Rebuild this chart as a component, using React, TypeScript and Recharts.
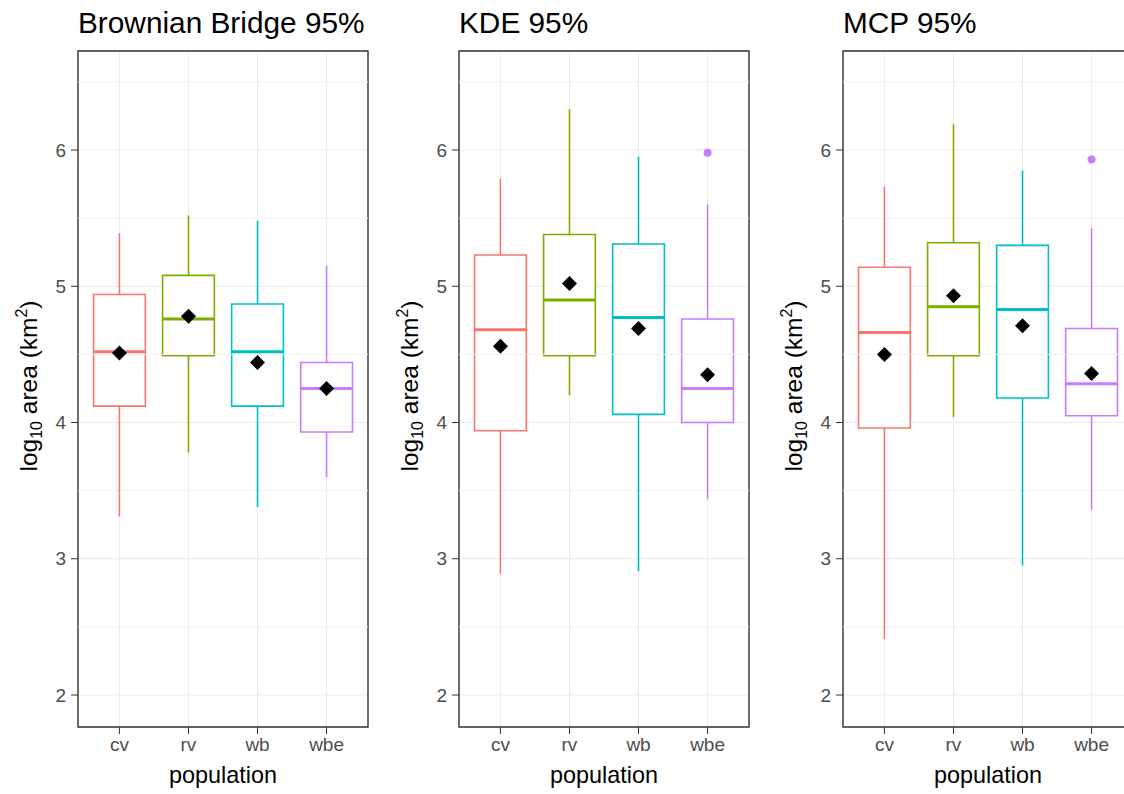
import React from 'react';
import {
  ComposedChart,
  XAxis,
  YAxis,
  CartesianGrid,
  ReferenceArea,
  ReferenceLine,
  Scatter,
} from 'recharts';

const populations = ['cv', 'rv', 'wb', 'wbe'];
const popColors = ['#F8766D', '#7CAE00', '#00BFC4', '#C77CFF'];
const yTicks = [2, 3, 4, 5, 6];
const yMinorTicks = [2.5, 3.5, 4.5, 5.5, 6.5];
const yDomain = [1.765, 6.727];

// Brownian Bridge 95%
const bbLow = [3.31, 3.78, 3.38, 3.6];
const bbQ1 = [4.12, 4.49, 4.12, 3.93];
const bbMedian = [4.52, 4.76, 4.52, 4.25];
const bbQ3 = [4.94, 5.08, 4.87, 4.44];
const bbHigh = [5.39, 5.52, 5.48, 5.15];
const bbMean = [4.51, 4.78, 4.44, 4.25];
const bbOutliers: { pop: string; value: number }[] = [];

// KDE 95%
const kdeLow = [2.89, 4.2, 2.91, 3.44];
const kdeQ1 = [3.94, 4.49, 4.06, 4.0];
const kdeMedian = [4.68, 4.9, 4.77, 4.25];
const kdeQ3 = [5.23, 5.38, 5.31, 4.76];
const kdeHigh = [5.79, 6.3, 5.95, 5.6];
const kdeMean = [4.56, 5.02, 4.69, 4.35];
const kdeOutliers = [{ pop: 'wbe', value: 5.98 }];

// MCP 95%
const mcpLow = [2.41, 4.04, 2.95, 3.36];
const mcpQ1 = [3.96, 4.49, 4.18, 4.05];
const mcpMedian = [4.66, 4.85, 4.83, 4.285];
const mcpQ3 = [5.14, 5.32, 5.3, 4.69];
const mcpHigh = [5.73, 6.19, 5.85, 5.43];
const mcpMean = [4.5, 4.93, 4.71, 4.36];
const mcpOutliers = [{ pop: 'wbe', value: 5.93 }];

const HALF_BOX = 0.375;

const MeanDiamond = (props: any) => {
  const { cx, cy } = props;
  const r = 7.5;
  return (
    <polygon
      points={`${cx},${cy - r} ${cx + r},${cy} ${cx},${cy + r} ${cx - r},${cy}`}
      fill="#000000"
    />
  );
};

const OutlierDot = (props: any) => {
  const { cx, cy, fill } = props;
  return <circle cx={cx} cy={cy} r={4} fill={fill} />;
};

interface PanelProps {
  left: number;
  marginLeft: number;
  marginRight: number;
  low: number[];
  q1: number[];
  median: number[];
  q3: number[];
  high: number[];
  mean: number[];
  outliers: { pop: string; value: number }[];
}

function BoxPanel(p: PanelProps) {
  const means = populations.map((pop, i) => ({ x: i + 1, y: p.mean[i] }));
  const outs = p.outliers.map((o) => ({ x: populations.indexOf(o.pop) + 1, y: o.value }));
  const outColor = p.outliers.length ? popColors[populations.indexOf(p.outliers[0].pop)] : '#000';

  return (
    <div style={{ position: 'absolute', left: p.left, top: 0, width: 380, height: 794 }}>
      <ComposedChart
        width={380}
        height={794}
        margin={{ top: 51, right: p.marginRight, bottom: 37, left: p.marginLeft }}
      >
        <CartesianGrid stroke="#EBEBEB" strokeWidth={1} />
        {yMinorTicks.map((v) => (
          <ReferenceLine key={`m${v}`} y={v} stroke="#F2F2F2" strokeWidth={1} />
        ))}
        <XAxis
          type="number"
          dataKey="x"
          domain={[0.4, 4.6]}
          ticks={[1, 2, 3, 4]}
          tickFormatter={(v) => populations[v - 1]}
          allowDataOverflow
          height={30}
          tickSize={7}
          tickMargin={4}
          axisLine={false}
          tickLine={{ stroke: '#333333' }}
          tick={{ fill: '#4D4D4D', fontSize: 19, fontFamily: 'Liberation Sans, Arial, sans-serif' }}
        />
        <YAxis
          type="number"
          dataKey="y"
          domain={yDomain}
          ticks={yTicks}
          allowDataOverflow
          width={30}
          tickSize={7}
          tickMargin={5}
          axisLine={false}
          tickLine={{ stroke: '#333333' }}
          tick={{ fill: '#4D4D4D', fontSize: 19, fontFamily: 'Liberation Sans, Arial, sans-serif' }}
        />
        {populations.map((pop, i) => (
          <ReferenceLine
            key={`wl${pop}`}
            segment={[{ x: i + 1, y: p.low[i] }, { x: i + 1, y: p.q1[i] }]}
            stroke={popColors[i]}
            strokeWidth={1.6}
          />
        ))}
        {populations.map((pop, i) => (
          <ReferenceLine
            key={`wh${pop}`}
            segment={[{ x: i + 1, y: p.q3[i] }, { x: i + 1, y: p.high[i] }]}
            stroke={popColors[i]}
            strokeWidth={1.6}
          />
        ))}
        {populations.map((pop, i) => (
          <ReferenceArea
            key={`box${pop}`}
            x1={i + 1 - HALF_BOX}
            x2={i + 1 + HALF_BOX}
            y1={p.q1[i]}
            y2={p.q3[i]}
            fill="#FFFFFF"
            fillOpacity={1}
            stroke={popColors[i]}
            strokeWidth={1.6}
          />
        ))}
        {populations.map((pop, i) => (
          <ReferenceLine
            key={`med${pop}`}
            segment={[
              { x: i + 1 - HALF_BOX, y: p.median[i] },
              { x: i + 1 + HALF_BOX, y: p.median[i] },
            ]}
            stroke={popColors[i]}
            strokeWidth={3}
          />
        ))}
        <ReferenceArea
          x1={0.4}
          x2={4.6}
          y1={yDomain[0]}
          y2={yDomain[1]}
          fill="none"
          stroke="#333333"
          strokeWidth={1.4}
        />
        {outs.length > 0 && (
          <Scatter data={outs} dataKey="y" fill={outColor} shape={OutlierDot} isAnimationActive={false} />
        )}
        <Scatter data={means} dataKey="y" fill="#000000" shape={MeanDiamond} isAnimationActive={false} />
      </ComposedChart>
    </div>
  );
}

const font = 'Liberation Sans, Arial, sans-serif';

function YTitle({ x }: { x: number }) {
  return (
    <text
      transform={`translate(${x}, 386) rotate(-90)`}
      textAnchor="middle"
      fontSize={24.5}
      fontFamily={font}
      fill="#000"
    >
      log
      <tspan fontSize={16} dy={5}>10</tspan>
      <tspan dy={-5}> area (km</tspan>
      <tspan fontSize={16} dy={-10}>2</tspan>
      <tspan dy={10}>)</tspan>
    </text>
  );
}

export default function App() {
  const panels = [
    { title: 'Brownian Bridge 95%', plotLeft: 78, plotRight: 368 },
    { title: 'KDE 95%', plotLeft: 459, plotRight: 749 },
    { title: 'MCP 95%', plotLeft: 843, plotRight: 1133 },
  ];
  return (
    <div
      style={{
        position: 'absolute',
        left: 0,
        top: 0,
        width: 1124,
        height: 794,
        overflow: 'hidden',
        background: '#FFFFFF',
      }}
    >
      <BoxPanel
        left={0}
        marginLeft={48}
        marginRight={12}
        low={bbLow}
        q1={bbQ1}
        median={bbMedian}
        q3={bbQ3}
        high={bbHigh}
        mean={bbMean}
        outliers={bbOutliers}
      />
      <BoxPanel
        left={380}
        marginLeft={49}
        marginRight={11}
        low={kdeLow}
        q1={kdeQ1}
        median={kdeMedian}
        q3={kdeQ3}
        high={kdeHigh}
        mean={kdeMean}
        outliers={kdeOutliers}
      />
      <BoxPanel
        left={760}
        marginLeft={53}
        marginRight={7}
        low={mcpLow}
        q1={mcpQ1}
        median={mcpMedian}
        q3={mcpQ3}
        high={mcpHigh}
        mean={mcpMean}
        outliers={mcpOutliers}
      />
      <svg
        width={1124}
        height={794}
        style={{ position: 'absolute', left: 0, top: 0, pointerEvents: 'none' }}
      >
        {panels.map((pn) => (
          <g key={pn.title}>
            <text x={pn.plotLeft} y={33} fontSize={29.8} fontFamily={font} fill="#000">
              {pn.title}
            </text>
            <text
              x={(pn.plotLeft + pn.plotRight) / 2}
              y={783}
              textAnchor="middle"
              fontSize={23.4}
              fontFamily={font}
              fill="#000"
            >
              population
            </text>
            <YTitle x={pn.plotLeft - 41} />
          </g>
        ))}
      </svg>
    </div>
  );
}
